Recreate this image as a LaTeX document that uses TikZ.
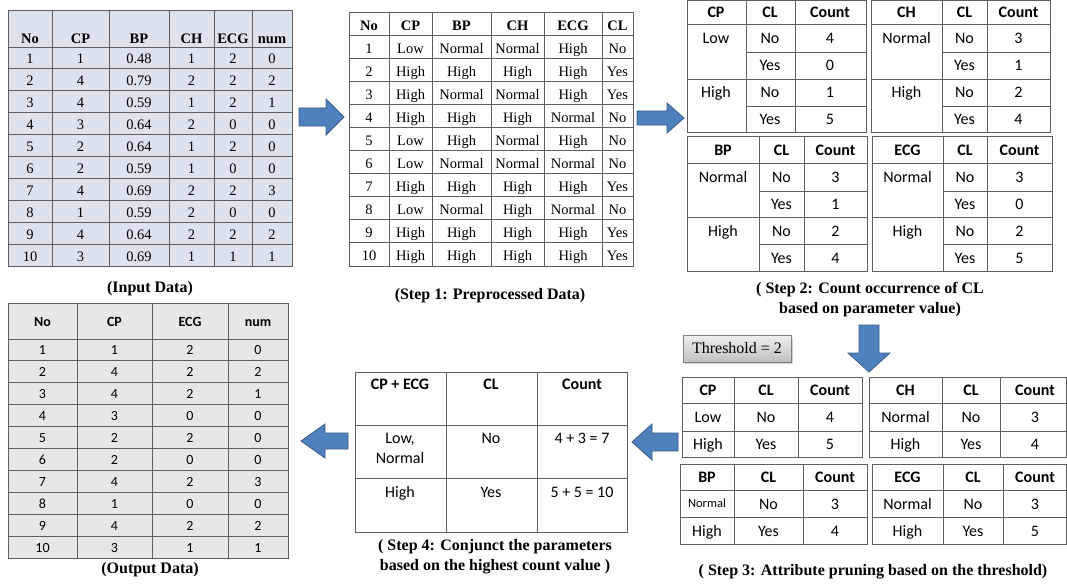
\documentclass[tikz,border=0pt]{standalone}
\usepackage{fontspec}
\setmainfont{Liberation Serif}
\newfontfamily\calfont{Carlito}
\usetikzlibrary{shadows}
\definecolor{lc}{RGB}{95,95,95}
\definecolor{inbg}{RGB}{220,227,238}
\definecolor{outbg}{RGB}{231,231,231}
\definecolor{arrfill}{RGB}{79,129,189}
\definecolor{arrdraw}{RGB}{56,93,138}
\tikzset{
  tl/.style={draw=lc, line width=0.9pt},
  scell/.style={font=\fontsize{14.5}{16}\selectfont, anchor=base, inner sep=0pt},
  shead/.style={font=\bfseries\fontsize{14.5}{16}\selectfont, anchor=base, inner sep=0pt},
  ccell/.style={font=\calfont\fontsize{16}{19}\selectfont, anchor=base, inner sep=0pt},
  chead/.style={font=\calfont\bfseries\fontsize{16}{19}\selectfont, anchor=base, inner sep=0pt},
  ocell/.style={font=\calfont\fontsize{14}{16}\selectfont, anchor=base, inner sep=0pt},
  ohead/.style={font=\calfont\bfseries\fontsize{14}{16}\selectfont, anchor=base, inner sep=0pt},
  captxt/.style={font=\bfseries\fontsize{16}{20}\selectfont, align=center, inner sep=0pt},
  barrow/.style={fill=arrfill, draw=arrdraw, line width=0.8pt, line join=miter},
}
\begin{document}
\begin{tikzpicture}[x=1pt,y=-1pt]
\useasboundingbox (0,0) rectangle (1067,583);

% ---------------- Input data ----------------
\fill[inbg] (8,10) rectangle (292,266);
\foreach \x in {52,109,169,214,252} \draw[tl] (\x,10) -- (\x,266);
\foreach \i in {0,...,9} \draw[tl] (8,{47+21.9*\i}) -- (292,{47+21.9*\i});
\draw[tl] (8,10) rectangle (292,266);
\foreach \t/\x [count=\k] in {No/30,CP/80.5,BP/139,CH/191.5,ECG/233,num/272}
  \node[shead] (in-h\k) at (\x,44) {\t};
\foreach \r/\va/\vb/\vc/\vd/\ve in {1/1/0.48/1/2/0,2/4/0.79/2/2/2,3/4/0.59/1/2/1,4/3/0.64/2/0/0,5/2/0.64/1/2/0,6/2/0.59/1/0/0,7/4/0.69/2/2/3,8/1/0.59/2/0/0,9/4/0.64/2/2/2,10/3/0.69/1/1/1}{
  \pgfmathsetmacro\yb{47+21.9*(\r-0.5)+6}
  \node[scell] (in-\r-1) at (30,\yb) {\r};
  \node[scell] (in-\r-2) at (80.5,\yb) {\va};
  \node[scell] (in-\r-3) at (139,\yb) {\vb};
  \node[scell] (in-\r-4) at (191.5,\yb) {\vc};
  \node[scell] (in-\r-5) at (233,\yb) {\vd};
  \node[scell] (in-\r-6) at (272,\yb) {\ve};
}
\node[captxt] (capin) at (150,289) {(Input Data)};

% ---------------- Step 1 ----------------
\foreach \x in {389,432,491,544,602} \draw[tl] (\x,12) -- (\x,266);
\foreach \i in {0,...,9} \draw[tl] (349,{35+23.1*\i}) -- (633,{35+23.1*\i});
\draw[tl] (349,12) rectangle (633,266);
\foreach \t/\x [count=\k] in {No/369,CP/410.5,BP/461.5,CH/517.5,ECG/573,CL/617.5}
  \node[shead] (s1-h\k) at (\x,30.5) {\t};
\foreach \r/\va/\vb/\vc/\vd/\ve in {1/Low/Normal/Normal/High/No,2/High/High/High/High/Yes,3/High/Normal/Normal/High/Yes,4/High/High/High/Normal/No,5/Low/High/Normal/High/No,6/Low/Normal/Normal/Normal/No,7/High/High/High/High/Yes,8/Low/Normal/High/Normal/No,9/High/High/High/High/Yes,10/High/High/High/High/Yes}{
  \pgfmathsetmacro\yb{35+23.1*(\r-0.5)+6.5}
  \node[scell] (s1-\r-1) at (369,\yb) {\r};
  \node[scell] (s1-\r-2) at (410.5,\yb) {\va};
  \node[scell] (s1-\r-3) at (461.5,\yb) {\vb};
  \node[scell] (s1-\r-4) at (517.5,\yb) {\vc};
  \node[scell] (s1-\r-5) at (573,\yb) {\vd};
  \node[scell] (s1-\r-6) at (617.5,\yb) {\ve};
}
\node[captxt] (caps1) at (490,296) {(Step 1: Preprocessed Data)};

% ---------------- Step 2 ----------------
% CP
\draw[tl] (687,0.6) rectangle (866,132);
\draw[tl] (746,0.6) -- (746,132); \draw[tl] (795,0.6) -- (795,132);
\draw[tl] (687,24) -- (866,24); \draw[tl] (746,52) -- (866,52);
\draw[tl] (687,79) -- (866,79); \draw[tl] (746,106) -- (866,106);
% CH
\draw[tl] (871,0.6) rectangle (1050,132);
\draw[tl] (942,0.6) -- (942,132); \draw[tl] (987,0.6) -- (987,132);
\draw[tl] (871,24) -- (1050,24); \draw[tl] (942,52) -- (1050,52);
\draw[tl] (871,79) -- (1050,79); \draw[tl] (942,106) -- (1050,106);
% BP
\draw[tl] (687,136) rectangle (867,271);
\draw[tl] (759,136) -- (759,271); \draw[tl] (804,136) -- (804,271);
\draw[tl] (687,163) -- (867,163); \draw[tl] (759,191) -- (867,191);
\draw[tl] (687,217) -- (867,217); \draw[tl] (759,244) -- (867,244);
% ECG
\draw[tl] (872,136) rectangle (1052,271);
\draw[tl] (943,136) -- (943,271); \draw[tl] (987,136) -- (987,271);
\draw[tl] (872,163) -- (1052,163); \draw[tl] (943,191) -- (1052,191);
\draw[tl] (872,217) -- (1052,217); \draw[tl] (943,244) -- (1052,244);

\foreach \x/\y/\t [count=\k] in {716/17.5/CP,770/17.5/CL,830/17.5/Count,906.5/17.5/CH,964.5/17.5/CL,1018.5/17.5/Count,723/155/BP,781.5/155/CL,835.5/155/Count,907.5/155/ECG,965/155/CL,1019.5/155/Count}
  \node[chead] (s2-h\k) at (\x,\y) {\t};
\foreach \x/\y/\t [count=\k] in {716/43.5/Low,770/43.5/No,830/43.5/4,770/71/Yes,830/71/0,716/98/High,770/98/No,830/98/1,770/124.5/Yes,830/124.5/5,
  906.5/43.5/Normal,964.5/43.5/No,1018.5/43.5/3,964.5/71/Yes,1018.5/71/1,906.5/98/High,964.5/98/No,1018.5/98/2,964.5/124.5/Yes,1018.5/124.5/4,
  723/182.5/Normal,781.5/182.5/No,835.5/182.5/3,781.5/209.5/Yes,835.5/209.5/1,723/236/High,781.5/236/No,835.5/236/2,781.5/263/Yes,835.5/263/4,
  907.5/182.5/Normal,965/182.5/No,1019.5/182.5/3,965/209.5/Yes,1019.5/209.5/0,907.5/236/High,965/236/No,1019.5/236/2,965/263/Yes,1019.5/263/5}
  \node[ccell] (s2-c\k) at (\x,\y) {\t};
\node[captxt] (caps2) at (870,300) {( Step 2: Count occurrence of CL\\based on parameter value)};

% ---------------- Step 3 ----------------
\node[draw=gray, line width=0.6pt, top color=white!94!black, bottom color=white!75!black,
      drop shadow={shadow xshift=2pt, shadow yshift=-2pt, opacity=0.35},
      minimum width=108pt, minimum height=27pt, inner sep=0pt,
      font=\fontsize{16}{19}\selectfont] (thr) at (737,348.5) {Threshold = 2};

\draw[tl] (682,377) rectangle (862,457);
\draw[tl] (734,377) -- (734,457); \draw[tl] (798,377) -- (798,457);
\draw[tl] (682,403) -- (862,403); \draw[tl] (682,431) -- (862,431);
\draw[tl] (869,377) rectangle (1066,457);
\draw[tl] (942,377) -- (942,457); \draw[tl] (1000,377) -- (1000,457);
\draw[tl] (869,403) -- (1066,403); \draw[tl] (869,431) -- (1066,431);
\draw[tl] (680,464) rectangle (867,544);
\draw[tl] (734,464) -- (734,544); \draw[tl] (803,464) -- (803,544);
\draw[tl] (680,490) -- (867,490); \draw[tl] (680,517) -- (867,517);
\draw[tl] (872,464) rectangle (1066,544);
\draw[tl] (943,464) -- (943,544); \draw[tl] (1003,464) -- (1003,544);
\draw[tl] (872,490) -- (1066,490); \draw[tl] (872,517) -- (1066,517);

\foreach \x/\y/\t [count=\k] in {708/395.5/CP,766/395.5/CL,830/395.5/Count,905.5/395.5/CH,971/395.5/CL,1035/395.5/Count,707/482.5/BP,768.5/482.5/CL,835/482.5/Count,907.5/482.5/ECG,973/482.5/CL,1035/482.5/Count}
  \node[chead] (s3-h\k) at (\x,\y) {\t};
\foreach \x/\y/\t [count=\k] in {708/422.5/Low,766/422.5/No,830/422.5/4,708/449.5/High,766/449.5/Yes,830/449.5/5,
  905.5/422.5/Normal,971/422.5/No,1035/422.5/3,905.5/449.5/High,971/449.5/Yes,1035/449.5/4,
  768.5/509/No,835/509/3,707/536/High,768.5/536/Yes,835/536/4,
  907.5/509/Normal,973/509/No,1035/509/3,907.5/536/High,973/536/Yes,1035/536/5}
  \node[ccell] (s3-c\k) at (\x,\y) {\t};
\node[ccell, font=\calfont\fontsize{12.5}{15}\selectfont] (s3-bpn) at (707,507) {Normal};
\node[captxt] (caps3) at (873,572) {( Step 3: Attribute pruning based on the threshold)};

% ---------------- Step 4 ----------------
\draw[tl] (355,372) rectangle (627,532);
\draw[tl] (446,372) -- (446,532); \draw[tl] (537,372) -- (537,532);
\draw[tl] (355,425) -- (627,425); \draw[tl] (355,478) -- (627,478);
\foreach \x/\y/\t [count=\k] in {400/389.5/CP + ECG,491/389.5/CL,582/389.5/Count}
  \node[chead] (s4-h\k) at (\x,\y) {\t};
\foreach \x/\y/\t [count=\k] in {400/443.5/{Low,},400/463.5/Normal,491/443.5/No,582/443.5/4 + 3 = 7,400/497.5/High,491/497.5/Yes,582/497.5/5 + 5 = 10}
  \node[ccell] (s4-c\k) at (\x,\y) {\t};
\node[captxt] (caps4) at (495,556.5) {( Step 4: Conjunct the parameters\\based on the highest count value )};

% ---------------- Output data ----------------
\fill[outbg] (8,303) rectangle (288,558);
\foreach \x in {77,152,228} \draw[tl] (\x,303) -- (\x,558);
\foreach \i in {0,...,9} \draw[tl] (8,{339+21.9*\i}) -- (288,{339+21.9*\i});
\draw[tl] (8,303) rectangle (288,558);
\foreach \t/\x [count=\k] in {No/42.5,CP/114.5,ECG/190,num/258}
  \node[ohead] (out-h\k) at (\x,326) {\t};
\foreach \r/\va/\vb/\vc in {1/1/2/0,2/4/2/2,3/4/2/1,4/3/0/0,5/2/2/0,6/2/0/0,7/4/2/3,8/1/0/0,9/4/2/2,10/3/1/1}{
  \pgfmathsetmacro\yb{339+21.9*(\r-0.5)+5}
  \node[ocell] (out-\r-1) at (42.5,\yb) {\r};
  \node[ocell] (out-\r-2) at (114.5,\yb) {\va};
  \node[ocell] (out-\r-3) at (190,\yb) {\vb};
  \node[ocell] (out-\r-4) at (258,\yb) {\vc};
}
\node[captxt] (capout) at (150,570) {(Output Data)};

% ---------------- Block arrows ----------------
\draw[barrow] (299,108) -- (326,108) -- (326,99) -- (344,117) -- (326,135) -- (326,126) -- (299,126) -- cycle;
\draw[barrow] (637,111) -- (667,111) -- (667,103) -- (684,118) -- (667,133) -- (667,125) -- (637,125) -- cycle;
\draw[barrow] (859,325) -- (879,325) -- (879,353) -- (890,353) -- (869,372) -- (848,353) -- (859,353) -- cycle;
\draw[barrow] (678,433) -- (652,433) -- (652,424) -- (632,442) -- (652,460) -- (652,451) -- (678,451) -- cycle;
\draw[barrow] (348,433) -- (325,433) -- (325,424) -- (301,441) -- (325,458) -- (325,449) -- (348,449) -- cycle;
\end{tikzpicture}
\end{document}
